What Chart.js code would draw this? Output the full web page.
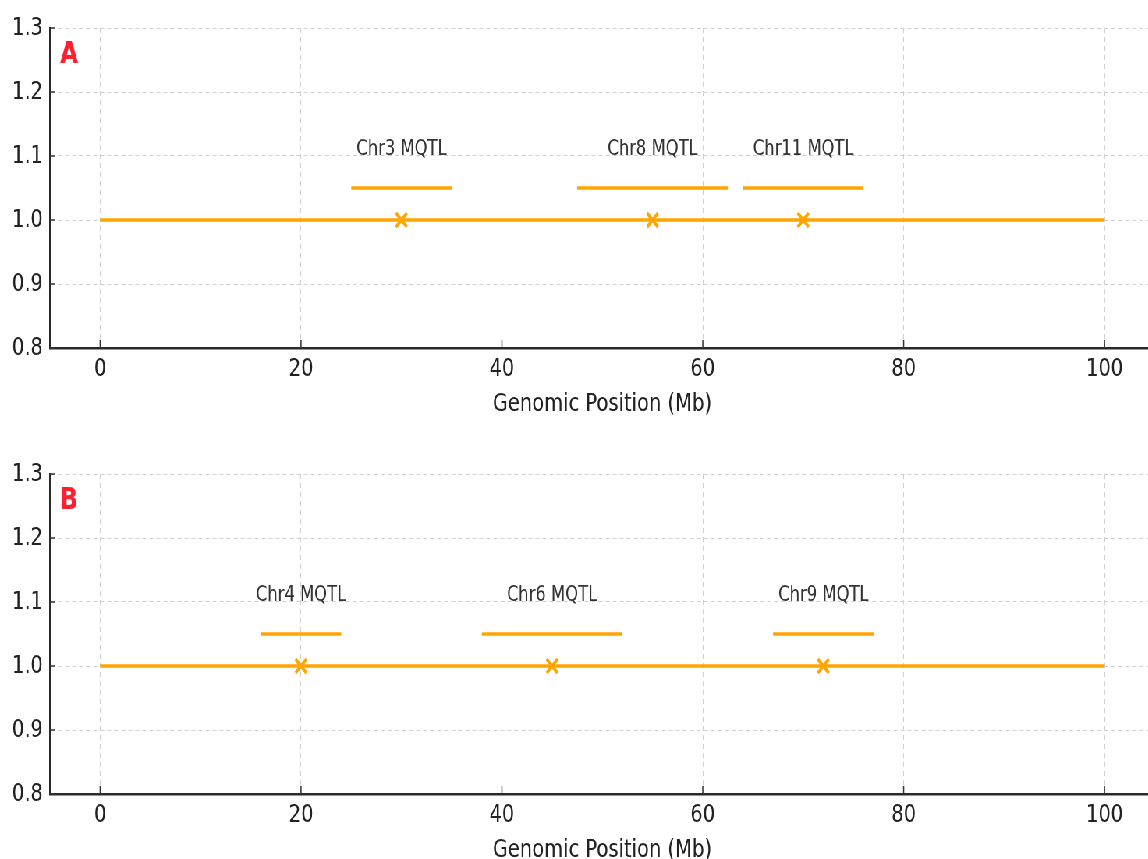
<!DOCTYPE html>
<html>
<head>
<meta charset="utf-8">
<script src="https://cdn.jsdelivr.net/npm/chart.js"></script>
<style>
  html, body { margin: 0; padding: 0; background: #fff; overflow: hidden; width: 1148px; height: 859px; }
  /* the reference figure is squeezed horizontally, so draw wide and squeeze */
  #wrap { width: 1494px; transform: scaleX(0.78); transform-origin: 0 0; }
  canvas { display: block; }
</style>
</head>
<body>
<div id="wrap">
  <canvas id="panelA" width="1494" height="446"></canvas>
  <canvas id="panelB" width="1494" height="446"></canvas>
</div>
<script>
var chromStart = 0, chromEnd = 100;
var baseLevel = 1.0, barLevel = 1.05, labelLevel = 1.1;
var xTicks = [0, 20, 40, 60, 80, 100];
var yTicks = [0.8, 0.9, 1.0, 1.1, 1.2, 1.3];

var namesA = ["Chr3 MQTL", "Chr8 MQTL", "Chr11 MQTL"];
var peaksA = [30, 55, 70];
var startsA = [25, 47.5, 64];
var endsA = [35, 62.5, 76];

var namesB = ["Chr4 MQTL", "Chr6 MQTL", "Chr9 MQTL"];
var peaksB = [20, 45, 72];
var startsB = [16, 38, 67];
var endsB = [24, 52, 77];

var orange = '#FFA500';
Chart.defaults.font.family = '"DejaVu Sans", sans-serif';

var qtlText = {
  id: 'qtlText',
  afterDraw: function(chart, args, opts) {
    var ctx = chart.ctx, x = chart.scales.x, y = chart.scales.y, area = chart.chartArea;
    ctx.save();
    // matplotlib style inward ticks
    ctx.strokeStyle = '#333';
    ctx.lineWidth = 1.5;
    xTicks.forEach(function(v) {
      var px = x.getPixelForValue(v);
      ctx.beginPath(); ctx.moveTo(px, area.bottom); ctx.lineTo(px, area.bottom - 8); ctx.stroke();
    });
    yTicks.forEach(function(v) {
      var py = y.getPixelForValue(v);
      ctx.beginPath(); ctx.moveTo(area.left, py); ctx.lineTo(area.left + 6, py); ctx.stroke();
    });
    // region labels
    ctx.fillStyle = '#333';
    ctx.font = '21px "DejaVu Sans"';
    ctx.textAlign = 'center';
    ctx.textBaseline = 'alphabetic';
    opts.names.forEach(function(n, i) {
      ctx.fillText(n, x.getPixelForValue(opts.peaks[i]), y.getPixelForValue(labelLevel) - 1);
    });
    // panel letter
    ctx.fillStyle = '#ff1f2f';
    ctx.font = 'bold 30px "DejaVu Sans"';
    ctx.textAlign = 'left';
    ctx.textBaseline = 'middle';
    ctx.fillText(opts.letter, x.getPixelForValue(-4), y.getPixelForValue(1.257));
    ctx.restore();
  }
};

function makeChart(id, letter, names, peaks, starts, ends) {
  var datasets = [{
    data: [{x: chromStart, y: baseLevel}, {x: chromEnd, y: baseLevel}],
    showLine: true, borderColor: orange, borderWidth: 3.5, pointRadius: 0
  }];
  for (var i = 0; i < names.length; i++) {
    datasets.push({
      data: [{x: starts[i], y: barLevel}, {x: ends[i], y: barLevel}],
      showLine: true, borderColor: orange, borderWidth: 3.5, pointRadius: 0
    });
  }
  datasets.push({
    data: peaks.map(function(p) { return {x: p, y: baseLevel}; }),
    showLine: false, pointStyle: 'crossRot', pointRadius: 10,
    borderColor: orange, backgroundColor: orange, pointBorderWidth: 3.5
  });

  return new Chart(document.getElementById(id).getContext('2d'), {
    type: 'scatter',
    data: {datasets: datasets},
    options: {
      responsive: false,
      animation: false,
      events: [],
      layout: {padding: {top: 28, right: 7, left: 0, bottom: 0}},
      plugins: {
        legend: {display: false},
        tooltip: {enabled: false},
        qtlText: {letter: letter, names: names, peaks: peaks}
      },
      scales: {
        x: {
          type: 'linear', min: -5, max: 105,
          afterBuildTicks: function(s) { s.ticks = xTicks.map(function(v) { return {value: v}; }); },
          afterFit: function(s) { s.height = 98; },
          grid: {color: '#d0d0d0', lineWidth: 1, drawTicks: false},
          border: {display: true, color: '#2a2a2a', width: 2.5, dash: [5, 4]},
          ticks: {color: '#222', font: {size: 25}, padding: 6, maxRotation: 0},
          title: {display: true, text: 'Genomic Position (Mb)', color: '#222',
                  font: {size: 25, lineHeight: 1.2}, padding: {top: 0, bottom: 27}}
        },
        y: {
          type: 'linear', min: 0.8, max: 1.3,
          afterBuildTicks: function(s) { s.ticks = yTicks.map(function(v) { return {value: v}; }); },
          afterFit: function(s) { s.width = 64; },
          grid: {color: '#d0d0d0', lineWidth: 1, drawTicks: false},
          border: {display: true, color: '#2a2a2a', width: 2.5, dash: [5, 4]},
          ticks: {color: '#222', font: {size: 25}, padding: 9,
                  callback: function(v) { return v.toFixed(1); }}
        }
      }
    },
    plugins: [qtlText]
  });
}

makeChart('panelA', 'A', namesA, peaksA, startsA, endsA);
makeChart('panelB', 'B', namesB, peaksB, startsB, endsB);
</script>
</body>
</html>
